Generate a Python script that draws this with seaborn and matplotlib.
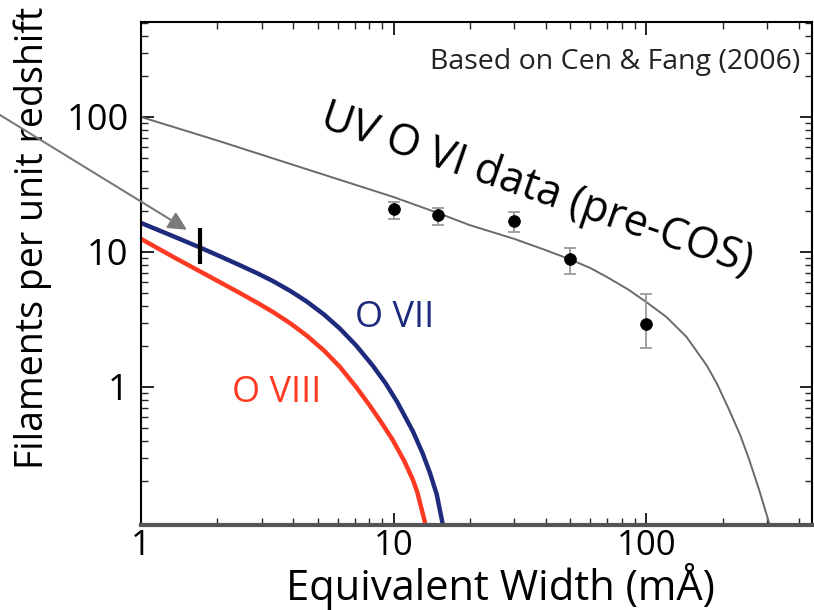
import matplotlib
matplotlib.use("Agg")
import matplotlib.pyplot as plt
import seaborn as sns
import pandas as pd
import numpy as np

# ---------------- data ----------------
ovi_model_x = [1, 2, 4.25, 10, 15, 20, 30, 40, 50, 60, 70, 85, 100, 120, 144,
               173, 190, 213, 235, 255, 280, 306]
ovi_model_y = [100, 67, 42.6, 25.5, 19.4, 15.8, 12.5, 10.3, 8.8, 7.6, 6.5, 5.25,
               4.25, 3.3, 2.35, 1.45, 1.06, 0.67, 0.44, 0.29, 0.17, 0.098]

ovii_x = [1, 1.3, 1.71, 2.1, 2.46, 2.9, 3.32, 3.9, 4.53, 5.3, 6.12, 7.1, 8.26,
          9.3, 10.3, 11.9, 13.0, 13.9, 14.8, 15.6]
ovii_y = [16.4, 13.4, 10.8, 9.12, 7.98, 6.92, 6.10, 5.14, 4.29, 3.44, 2.71, 2.03,
          1.44, 1.06, 0.78, 0.471, 0.324, 0.232, 0.160, 0.098]

oviii_x = [1, 1.34, 1.82, 2.46, 2.9, 3.33, 3.9, 4.53, 5.3, 6.12, 7.1, 8.04, 8.93,
           9.91, 11.0, 11.9, 12.4, 13.3]
oviii_y = [12.5, 9.2, 6.75, 4.97, 4.18, 3.59, 2.96, 2.40, 1.86, 1.41, 1.0, 0.728,
           0.547, 0.405, 0.284, 0.206, 0.166, 0.099]

data_x = [10, 15, 30, 50, 100]
data_y = [20.8, 18.8, 17.0, 8.9, 2.93]
data_lo = [17.5, 15.8, 14.0, 6.9, 1.95]
data_hi = [23.5, 21.2, 19.8, 10.7, 4.9]

marker_x = [1.71]
marker_lo = [8.2]
marker_hi = [15.1]

xticks = [1, 10, 100]
xticklabels = ["1", "10", "100"]
yticks = [1, 10, 100]
yticklabels = ["1", "10", "100"]

# ---------------- style ----------------
sns.set_theme(style="ticks")
FONT = ["Open Sans", "DejaVu Sans"]
plt.rcParams["font.family"] = FONT

W, H = 814, 610
fig = plt.figure(figsize=(W / 100, H / 100), dpi=100)
ax = fig.add_axes([141 / W, 1 - 525 / H, (812 - 141) / W, (525 - 22) / H])
ax.set_xscale("log")
ax.set_yscale("log")

df_model = pd.DataFrame({"x": ovi_model_x, "y": ovi_model_y})
df_ovii = pd.DataFrame({"x": ovii_x, "y": ovii_y})
df_oviii = pd.DataFrame({"x": oviii_x, "y": oviii_y})
df_data = pd.DataFrame({"x": data_x, "y": data_y, "lo": data_lo, "hi": data_hi})

sns.lineplot(data=df_model, x="x", y="y", ax=ax, color="#6a6a6a", lw=1.4,
             estimator=None, sort=False)
sns.lineplot(data=df_oviii, x="x", y="y", ax=ax, color="#ff3a22", lw=3.2,
             estimator=None, sort=False)
sns.lineplot(data=df_ovii, x="x", y="y", ax=ax, color="#1e2a7c", lw=3.2,
             estimator=None, sort=False)

yerr = [np.array(data_y) - np.array(data_lo), np.array(data_hi) - np.array(data_y)]
ax.errorbar(data_x, data_y, yerr=yerr, fmt="none", ecolor="#9a9a9a",
            elinewidth=1.3, capsize=4, capthick=1.3, zorder=3)
sns.scatterplot(data=df_data, x="x", y="y", ax=ax, color="black", s=70,
                edgecolor="black", zorder=4)

ax.vlines(marker_x, marker_lo, marker_hi, color="black", lw=3, zorder=5)

ax.set_xlim(1, 452)
ax.set_ylim(0.095, 505)

ax.set_xticks(xticks)
ax.set_xticklabels(xticklabels)
ax.set_yticks(yticks)
ax.set_yticklabels(yticklabels)
ax.tick_params(which="major", direction="in", length=9, width=1.2,
               top=True, right=True, colors="black")
ax.tick_params(which="minor", direction="in", length=5, width=1.0,
               top=True, right=True)
ax.tick_params(axis="y", which="major", labelsize=26, pad=9)
ax.tick_params(axis="x", which="major", labelsize=25, pad=3)
ax.yaxis.set_minor_formatter(matplotlib.ticker.NullFormatter())
ax.xaxis.set_minor_formatter(matplotlib.ticker.NullFormatter())

for s in ["left", "top", "right"]:
    ax.spines[s].set_color("black")
    ax.spines[s].set_linewidth(1.5)
ax.spines["bottom"].set_color("#555555")
ax.spines["bottom"].set_linewidth(3)

ax.set_xlabel("Equivalent Width (mÅ)", fontsize=30, color="black")
ax.set_ylabel("Filaments per unit redshift", fontsize=27, color="black")
ax.xaxis.set_label_coords((500 - 141) / 671, (525 - 587) / 503)
ax.xaxis.label.set_va("center")
ax.yaxis.set_label_coords((33 - 141) / 671, (525 - 238) / 503)
ax.yaxis.label.set_va("center")

# texts
fig.text(800 / W, 1 - 62 / H, "Based on Cen & Fang (2006)", ha="right", va="center",
         fontsize=20.5, color="#222222")
fig.text(537 / W, 1 - 190 / H, "UV O VI data (pre-COS)", ha="center", va="center",
         rotation=-19, rotation_mode="anchor", fontsize=31, color="black")
fig.text(395 / W, 1 - 318 / H, "O VII", ha="center", va="center",
         fontsize=26, color="#1e2a7c")
fig.text(277 / W, 1 - 393 / H, "O VIII", ha="center", va="center",
         fontsize=26, color="#ff3a22")

# arrow
ax.annotate("", xy=(1.52, 14.6), xycoords="data",
            xytext=(0, H - 115), textcoords="figure pixels",
            arrowprops=dict(arrowstyle="-|>", color="#7a7a7a", lw=1.5,
                            mutation_scale=28, shrinkA=0, shrinkB=0),
            annotation_clip=False)

fig.savefig("out.png", dpi=100)
